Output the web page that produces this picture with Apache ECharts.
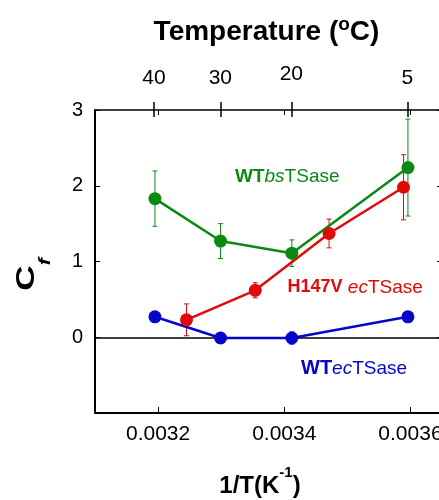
<!DOCTYPE html>
<html>
<head>
<meta charset="utf-8">
<script src="https://cdn.jsdelivr.net/npm/echarts@6/dist/echarts.min.js"></script>
<style>
  html, body { margin: 0; padding: 0; background: #fff; }
  #chart { width: 439px; height: 500px; }
</style>
</head>
<body>
<div id="chart"></div>
<script>
// tick labels
const tempTicks = [40, 30, 20, 5];           // top axis, degrees C
const invTTicks = [0.0032, 0.0034, 0.0036];  // bottom axis, 1/T
const cTicks = [0, 1, 2, 3];

// WT bsTSase
const wtBsX = [0.003195, 0.003299, 0.003412, 0.003596];
const wtBsY = [1.83, 1.27, 1.11, 2.24];
const wtBsErr = [0.365, 0.23, 0.175, 0.64];

// H147V ecTSase
const h147vX = [0.003245, 0.003354, 0.003471, 0.003589];
const h147vY = [0.23, 0.62, 1.37, 1.98];
const h147vErr = [0.21, 0.1, 0.19, 0.43];

// WT ecTSase
const wtEcX = [0.003195, 0.003299, 0.003412, 0.003596];
const wtEcY = [0.27, -0.01, -0.01, 0.27];
const wtEcErr = [0, 0, 0.08, 0];

const GREEN = "#0a8a12";
const RED = "#e00a0a";
const BLUE = "#0505cc";
const FONT = "'Liberation Sans', Arial, sans-serif";
const X_MIN = 0.0031;
const X_MAX = 0.00365;

const tempPos = tempTicks.map((t) => 1 / (t + 273.15));

const chart = echarts.init(document.getElementById("chart"));

function lineSeries(xs, ys, color) {
  return {
    type: "line",
    data: xs.map((x, i) => [x, ys[i]]),
    symbol: "circle",
    symbolSize: 13,
    lineStyle: { color: color, width: 2.5 },
    itemStyle: { color: color },
    z: 3,
  };
}

function errSeries(xs, ys, errs, color) {
  return {
    type: "custom",
    silent: true,
    z: 2,
    data: xs.map((x, i) => [x, ys[i], errs[i]]),
    renderItem: (params, api) => {
      const x = api.value(0);
      const y = api.value(1);
      const e = api.value(2);
      if (!e) return null;
      const top = api.coord([x, y + e]);
      const bot = api.coord([x, y - e]);
      const w = 2.5;
      const st = { stroke: color, lineWidth: 1 };
      return {
        type: "group",
        children: [
          { type: "line", shape: { x1: top[0], y1: top[1], x2: bot[0], y2: bot[1] }, style: st },
          { type: "line", shape: { x1: top[0] - w, y1: top[1], x2: top[0] + w, y2: top[1] }, style: st },
          { type: "line", shape: { x1: bot[0] - w, y1: bot[1], x2: bot[0] + w, y2: bot[1] }, style: st },
        ],
      };
    },
  };
}

const baseX = {
  type: "value",
  min: X_MIN,
  max: X_MAX,
  splitLine: { show: false },
};

const options = {
  animation: false,
  textStyle: { fontFamily: FONT },
  grid: { left: 95, top: 110, width: 347, height: 303, containLabel: false, outerBoundsMode: "none" },
  xAxis: [
    {
      ...baseX,
      position: "bottom",
      axisLine: { onZero: false, lineStyle: { color: "#000", width: 2 } },
      axisTick: { inside: true, length: 6, customValues: invTTicks, lineStyle: { color: "#000" } },
      axisLabel: {
        customValues: invTTicks,
        margin: 11,
        fontSize: 21,
        color: "#000",
        fontFamily: FONT,
        formatter: (v) => v.toFixed(4),
      },
    },
    {
      ...baseX,
      position: "top",
      axisLine: { onZero: false, lineStyle: { color: "#000", width: 1.5 } },
      axisTick: { inside: false, length: 8, customValues: tempPos, lineStyle: { color: "#000", width: 1.5 } },
      axisLabel: {
        customValues: tempPos,
        margin: 21,
        color: "#000",
        formatter: (v) => {
          const t = Math.round(1 / v - 273.15);
          return t === 20 ? "{hi|" + t + "}" : "{n|" + t + "}";
        },
        rich: {
          n: { fontSize: 21, fontFamily: FONT, color: "#000" },
          hi: { fontSize: 21, fontFamily: FONT, color: "#000", padding: [0, 0, 4, 0] },
        },
      },
    },
    {
      ...baseX,
      position: "top",
      axisLine: { show: false, onZero: false },
      axisTick: { inside: true, length: 7, customValues: tempPos, lineStyle: { color: "#000", width: 1.5 } },
      axisLabel: { show: false },
    },
    {
      ...baseX,
      position: "top",
      axisLine: { show: false, onZero: false },
      axisTick: { inside: true, length: 5, customValues: invTTicks, lineStyle: { color: "#000" } },
      axisLabel: { show: false },
    },
    {
      // horizontal line at C_f = 0
      ...baseX,
      position: "bottom",
      axisLine: { onZero: true, lineStyle: { color: "#000", width: 1.5 } },
      axisTick: { show: false },
      axisLabel: { show: false },
    },
  ],
  yAxis: [
    {
      type: "value",
      min: -1,
      max: 3,
      interval: 1,
      position: "left",
      splitLine: { show: false },
      axisLine: { show: true, onZero: false, lineStyle: { color: "#000", width: 2 } },
      axisTick: { inside: true, length: 5, customValues: cTicks, lineStyle: { color: "#000" } },
      axisLabel: { customValues: cTicks, margin: 12, fontSize: 20, color: "#000", fontFamily: FONT },
    },
    {
      type: "value",
      min: -1,
      max: 3,
      interval: 1,
      position: "right",
      splitLine: { show: false },
      axisLine: { show: true, onZero: false, lineStyle: { color: "#000", width: 2 } },
      axisTick: { inside: true, length: 5, customValues: cTicks, lineStyle: { color: "#000" } },
      axisLabel: { show: false },
    },
  ],
  series: [
    errSeries(wtBsX, wtBsY, wtBsErr, GREEN),
    errSeries(h147vX, h147vY, h147vErr, RED),
    errSeries(wtEcX, wtEcY, wtEcErr, BLUE),
    lineSeries(wtEcX, wtEcY, BLUE),
    lineSeries(wtBsX, wtBsY, GREEN),
    lineSeries(h147vX, h147vY, RED),
  ],
  graphic: [
    {
      type: "text",
      x: 266.5,
      y: 32,
      style: {
        text: "{a|Temperature (}{s|o}{a|C)}",
        align: "center",
        verticalAlign: "middle",
        rich: {
          a: { fontSize: 28, fontWeight: "bold", fontFamily: FONT, lineHeight: 28, fill: "#000" },
          s: { fontSize: 19, fontWeight: "bold", fontFamily: FONT, lineHeight: 19, padding: [0, 0, 14, 0], fill: "#000" },
        },
      },
    },
    {
      type: "text",
      x: 260,
      y: 486,
      style: {
        text: "{a|1/T(K}{s|-1}{a|)}",
        align: "center",
        verticalAlign: "middle",
        rich: {
          a: { fontSize: 24, fontWeight: "bold", fontFamily: FONT, lineHeight: 24, fill: "#000" },
          s: { fontSize: 15, fontWeight: "bold", fontFamily: FONT, lineHeight: 15, padding: [0, 0, 26, 0], fill: "#000" },
        },
      },
    },
    {
      type: "text",
      x: 27,
      y: 274.4,
      rotation: Math.PI / 2,
      scaleX: 1.35,
      style: {
        text: "{c|C}{f|f}",
        align: "center",
        verticalAlign: "middle",
        rich: {
          c: { fontSize: 26, fontWeight: "bold", fontFamily: FONT, lineHeight: 26, verticalAlign: "top", fill: "#000" },
          f: { fontSize: 16, fontStyle: "italic", fontWeight: "bold", fontFamily: FONT, lineHeight: 16, verticalAlign: "top", padding: [24, 0, 0, 0], fill: "#000" },
        },
      },
    },
    {
      type: "text",
      x: 235,
      y: 176.5,
      style: {
        text: "{b|WT}{i|bs}{n|TSase}",
        align: "left",
        verticalAlign: "middle",
        rich: {
          b: { fontSize: 19, fontWeight: "bold", fontFamily: FONT, fill: GREEN },
          i: { fontSize: 19, fontStyle: "italic", fontFamily: FONT, fill: GREEN },
          n: { fontSize: 19, fontFamily: FONT, fill: GREEN },
        },
      },
    },
    {
      type: "text",
      x: 287.5,
      y: 287.5,
      style: {
        text: "{b|H147V}{n| }{i|ec}{n|TSase}",
        align: "left",
        verticalAlign: "middle",
        rich: {
          b: { fontSize: 18, fontWeight: "bold", fontFamily: FONT, fill: RED },
          i: { fontSize: 19, fontStyle: "italic", fontFamily: FONT, fill: RED },
          n: { fontSize: 19, fontFamily: FONT, fill: RED },
        },
      },
    },
    {
      type: "text",
      x: 301,
      y: 368.5,
      style: {
        text: "{b|WT}{i|ec}{n|TSase}",
        align: "left",
        verticalAlign: "middle",
        rich: {
          b: { fontSize: 20, fontWeight: "bold", fontFamily: FONT, fill: BLUE },
          i: { fontSize: 19, fontStyle: "italic", fontFamily: FONT, fill: BLUE },
          n: { fontSize: 19, fontFamily: FONT, fill: BLUE },
        },
      },
    },
  ],
};

chart.setOption(options);
</script>
</body>
</html>
